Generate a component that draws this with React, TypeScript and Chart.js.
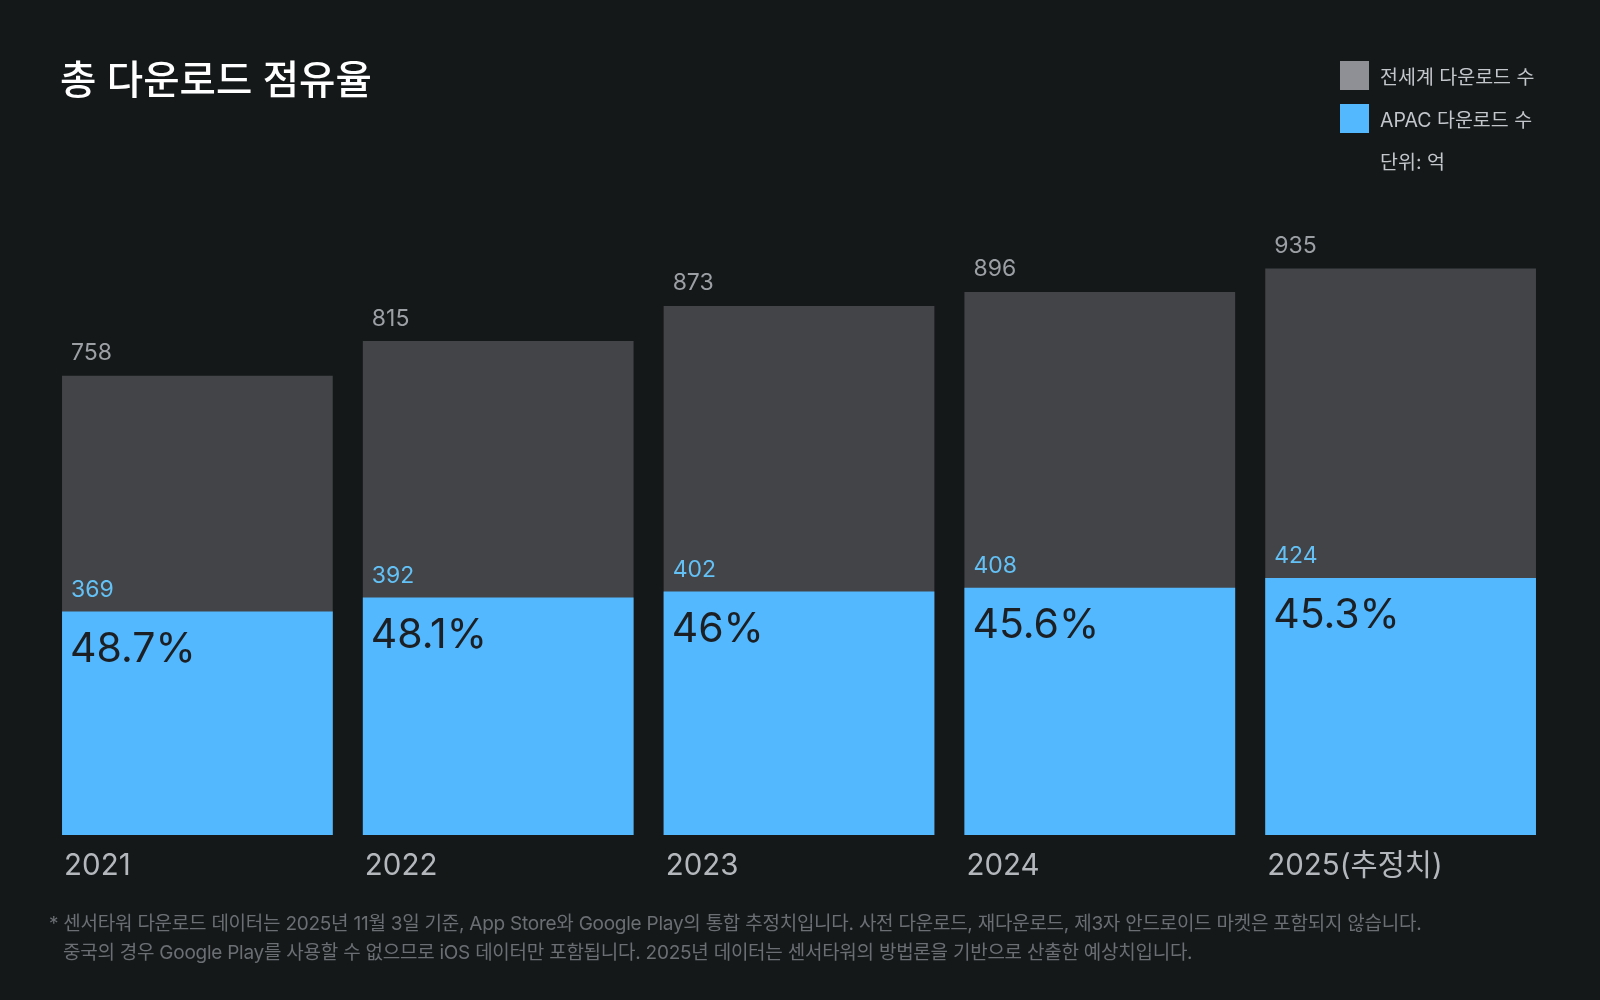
import React, { useEffect, useRef } from "react";
import { Chart, registerables } from "chart.js";

Chart.register(...registerables);

const categories = ["2021", "2022", "2023", "2024", "2025(추정치)"];
const worldDownloads = [758, 815, 873, 896, 935];
const apacDownloads = [369, 392, 402, 408, 424];
const apacShare = ["48.7%", "48.1%", "46%", "45.6%", "45.3%"];

const titleText = "총 다운로드 점유율";
const legendWorld = "전세계 다운로드 수";
const legendApac = "APAC 다운로드 수";
const unitText = "단위: 억";
const footLine1 =
  "* 센서타워 다운로드 데이터는 2025년 11월 3일 기준, App Store와 Google Play의 통합 추정치입니다. 사전 다운로드, 재다운로드, 제3자 안드로이드 마켓은 포함되지 않습니다.";
const footLine2 =
  "중국의 경우 Google Play를 사용할 수 없으므로 iOS 데이터만 포함됩니다. 2025년 데이터는 센서타워의 방법론을 기반으로 산출한 예상치입니다.";

const BG = "#151819";
const GRAY_BAR = "#434448";
const BLUE_BAR = "#53b8fe";
const FONT = "Inter, 'Noto Sans CJK KR', sans-serif";

const labelPlugin = {
  id: "labels",
  afterDatasetsDraw(chart: any) {
    const ctx = chart.ctx;
    const worldMeta = chart.getDatasetMeta(1);
    const apacMeta = chart.getDatasetMeta(0);
    const xScale = chart.scales.x;
    ctx.save();
    ctx.textBaseline = "middle";
    ctx.textAlign = "left";
    worldMeta.data.forEach((bar: any, i: number) => {
      const left = bar.x - bar.width / 2;
      ctx.font = `400 23px ${FONT}`;
      ctx.fillStyle = "#9c9fa4";
      ctx.fillText(String(worldDownloads[i]), left + 9, bar.y - 22.5);
      const ab = apacMeta.data[i];
      ctx.fillStyle = "#63c1f6";
      ctx.fillText(String(apacDownloads[i]), left + 9, ab.y - 21.5);
      ctx.font = `400 41px ${FONT}`;
      ctx.fillStyle = "#1c2024";
      ctx.fillText(apacShare[i], left + 8, ab.y + 38);
      ctx.font = `400 29.5px ${FONT}`;
      ctx.fillStyle = "#b4b7bc";
      const xp = xScale.getPixelForValue(i);
      ctx.fillText(categories[i], xp - bar.width / 2 + 2, chart.chartArea.bottom + 31.5);
    });
    ctx.restore();
  },
};

export default function App() {
  const canvasRef = useRef<HTMLCanvasElement | null>(null);

  useEffect(() => {
    document.body.style.margin = "0";
    document.body.style.background = BG;
    const chart = new Chart(canvasRef.current as HTMLCanvasElement, {
      type: "bar",
      data: {
        labels: categories,
        datasets: [
          {
            label: legendApac,
            data: apacDownloads,
            backgroundColor: BLUE_BAR,
            borderWidth: 0,
          },
          {
            label: legendWorld,
            data: worldDownloads,
            backgroundColor: GRAY_BAR,
            borderWidth: 0,
          },
        ],
      },
      options: {
        animation: false,
        responsive: false,
        maintainAspectRatio: false,
        layout: { padding: { left: 47, right: 49, top: 229, bottom: 165 } },
        datasets: { bar: { categoryPercentage: 1, barPercentage: 0.9 } },
        scales: {
          x: { display: false, stacked: true },
          y: { display: false, stacked: false, min: 0, max: 1000 },
        },
        plugins: {
          legend: { display: false },
          tooltip: { enabled: false },
        },
      },
      plugins: [labelPlugin],
    });
    return () => chart.destroy();
  }, []);

  const legendItem = (color: string, text: string, top: number) => (
    <div style={{ position: "absolute", left: 1340, top, height: 29, display: "flex", alignItems: "center" }}>
      <div style={{ width: 29, height: 29, background: color }} />
      <span style={{ marginLeft: 11, fontSize: 19.5, color: "#c3c6cb", fontFamily: FONT }}>{text}</span>
    </div>
  );

  return (
    <div style={{ position: "relative", width: 1600, height: 1000, background: BG, overflow: "hidden" }}>
      <canvas ref={canvasRef} width={1600} height={1000} style={{ position: "absolute", left: 0, top: 0 }} />
      <div
        style={{
          position: "absolute",
          left: 60,
          top: 54,
          fontSize: 39.5,
          fontWeight: 500,
          color: "#ffffff",
          fontFamily: FONT,
          lineHeight: "52px",
        }}
      >
        {titleText}
      </div>
      {legendItem("#8e9095", legendWorld, 61)}
      {legendItem(BLUE_BAR, legendApac, 104)}
      <div style={{ position: "absolute", left: 1380, top: 148, fontSize: 19.5, color: "#c3c6cb", fontFamily: FONT, lineHeight: "28px" }}>
        {unitText}
      </div>
      <div
        style={{
          position: "absolute",
          left: 49,
          top: 910,
          fontSize: 19,
          color: "#6b6f74",
          fontFamily: FONT,
          lineHeight: "28.6px",
          whiteSpace: "nowrap",
          letterSpacing: "-0.25px",
        }}
      >
        <div>{footLine1}</div>
        <div style={{ paddingLeft: 14 }}>{footLine2}</div>
      </div>
    </div>
  );
}
